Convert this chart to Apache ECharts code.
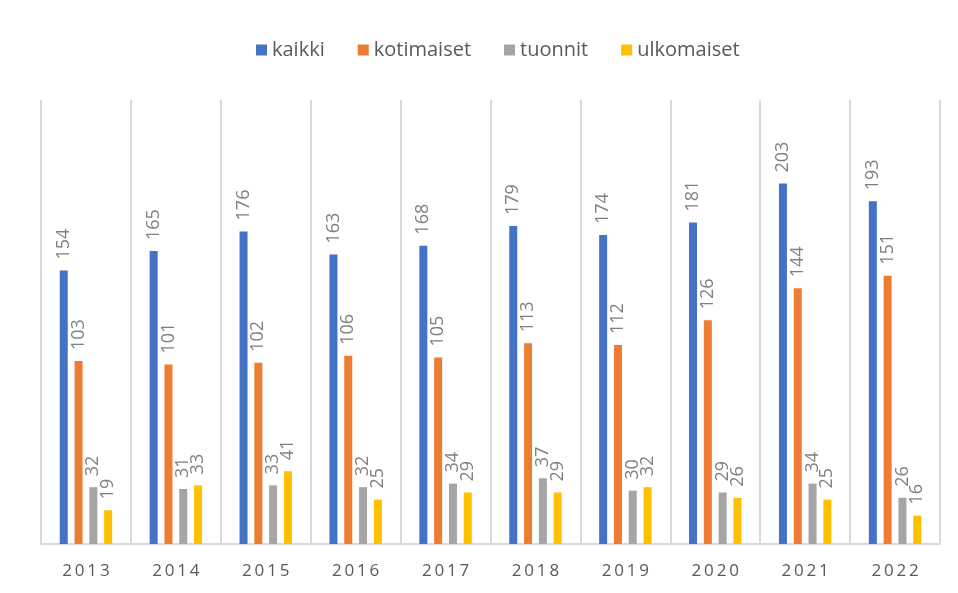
<!DOCTYPE html>
<html>
<head>
<meta charset="utf-8">
<script src="https://cdn.jsdelivr.net/npm/echarts@6/dist/echarts.min.js"></script>
<style>
  html, body { margin: 0; padding: 0; background: #fff; }
  #chart { width: 958px; height: 593px; }
</style>
</head>
<body>
<div id="chart"></div>
<script>
  const years = ['2013', '2014', '2015', '2016', '2017', '2018', '2019', '2020', '2021', '2022']
  const kaikki = [154, 165, 176, 163, 168, 179, 174, 181, 203, 193]
  const kotimaiset = [103, 101, 102, 106, 105, 113, 112, 126, 144, 151]
  const tuonnit = [32, 31, 33, 32, 34, 37, 30, 29, 34, 26]
  const ulkomaiset = [19, 33, 41, 25, 29, 29, 32, 26, 25, 16]

  const fontFamily = '"Open Sans", "Liberation Sans", sans-serif'
  const labelStyle = {
    show: true,
    position: 'top',
    rotate: 90,
    align: 'left',
    verticalAlign: 'middle',
    distance: 11,
    color: '#808080',
    fontSize: 18,
    fontFamily: fontFamily
  }

  function makeSeries(name, data, color) {
    return {
      name: name,
      type: 'bar',
      data: data,
      barWidth: 8,
      barGap: '85%',
      itemStyle: { color: color },
      label: labelStyle
    }
  }

  var chart = echarts.init(document.getElementById('chart'))
  var option = {
    animation: false,
    legend: {
      top: 35,
      left: 251,
      itemWidth: 11,
      itemHeight: 11,
      itemGap: 33,
      icon: 'rect',
      textStyle: { color: '#595959', fontSize: 20, fontFamily: fontFamily }
    },
    grid: { left: 41, right: 18, top: 100, bottom: 49 },
    xAxis: {
      type: 'category',
      data: years,
      axisLine: { lineStyle: { color: '#d9d9d9', width: 2 } },
      axisTick: { show: false },
      splitLine: { show: true, interval: 0, lineStyle: { color: '#d9d9d9', width: 2 } },
      axisLabel: {
        color: '#595959',
        fontSize: 17,
        margin: 19,
        fontFamily: fontFamily,
        formatter: function (v) { return v.split('').join('\u2009') }
      }
    },
    yAxis: {
      type: 'value',
      min: 0,
      max: 250,
      show: false,
      splitLine: { show: false }
    },
    series: [
      makeSeries('kaikki', kaikki, '#4472c4'),
      makeSeries('kotimaiset', kotimaiset, '#ed7d31'),
      makeSeries('tuonnit', tuonnit, '#a5a5a5'),
      makeSeries('ulkomaiset', ulkomaiset, '#ffc000')
    ]
  }
  chart.setOption(option)
</script>
</body>
</html>
